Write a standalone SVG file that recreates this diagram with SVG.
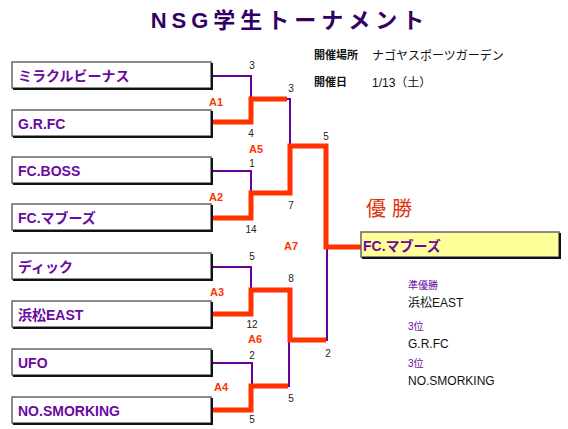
<svg xmlns="http://www.w3.org/2000/svg" width="568" height="429" viewBox="0 0 568 429">
<style>
.box{fill:#fff;stroke:#666;stroke-width:1.5}
.sh{fill:none;stroke:#111;stroke-width:2}
.tn{font-family:"Liberation Sans","Noto Sans CJK JP",sans-serif;font-size:14px;font-weight:bold;fill:#6a0aa0}
.sc{font-family:"Liberation Sans","Noto Sans CJK JP",sans-serif;font-size:10px;fill:#222;text-anchor:middle}
.mt{font-family:"Liberation Sans","Noto Sans CJK JP",sans-serif;font-size:11px;font-weight:bold;fill:#ff3300;text-anchor:middle}
.p{fill:none;stroke:#660099;stroke-width:2}
.o{fill:none;stroke:#ff3300;stroke-width:5;stroke-linejoin:miter}
.inf{font-family:"Liberation Sans","Noto Sans CJK JP",sans-serif;font-size:12px;fill:#111}
.res{font-family:"Liberation Sans","Noto Sans CJK JP",sans-serif;font-size:10px;fill:#6a0aa0}
</style>
<text x="290" y="28" text-anchor="middle" style="font-family:'Liberation Sans','Noto Sans CJK JP',sans-serif;font-size:22px;font-weight:bold;fill:#330066;letter-spacing:5px">NSG学生トーナメント</text>
<g id="info">
<text x="314" y="59" class="inf" style="font-weight:bold;font-size:11px">開催場所</text>
<text x="372" y="60" class="inf">ナゴヤスポーツガーデン</text>
<text x="314" y="86" class="inf" style="font-weight:bold;font-size:11px">開催日</text>
<text x="372" y="87" class="inf">1/13（土）</text>
</g>
<g id="connectors">
<path class="p" d="M212 76H251V99"/>
<path class="p" d="M212 171H251V193"/>
<path class="p" d="M212 267H251V290"/>
<path class="p" d="M212 363H252V386"/>
<path class="p" d="M287 99H290V146"/>
<path class="p" d="M288 386H289V340"/>
<path class="p" d="M324 340H327V247"/>
<path class="o" d="M212 122H251V99H287"/>
<path class="o" d="M212 218H251V193H290V146H326V247H362"/>
<path class="o" d="M212 314H251V290H290V340H326"/>
<path class="o" d="M212 410H251V386H288"/>
</g>
<g id="labels">
<text x="252" y="69" class="sc">3</text>
<text x="291" y="92" class="sc">3</text>
<text x="251" y="137" class="sc">4</text>
<text x="326" y="140" class="sc">5</text>
<text x="252" y="167" class="sc">1</text>
<text x="291" y="209" class="sc">7</text>
<text x="251" y="233" class="sc">14</text>
<text x="252" y="260" class="sc">5</text>
<text x="291" y="282" class="sc">8</text>
<text x="252" y="328" class="sc">12</text>
<text x="328" y="357" class="sc">2</text>
<text x="252" y="359" class="sc">2</text>
<text x="291" y="402" class="sc">5</text>
<text x="252" y="423" class="sc">5</text>
<text x="216" y="106" class="mt">A1</text>
<text x="216" y="201" class="mt">A2</text>
<text x="217" y="296" class="mt">A3</text>
<text x="221" y="391" class="mt">A4</text>
<text x="256" y="153" class="mt">A5</text>
<text x="255" y="343" class="mt">A6</text>
<text x="291" y="250" class="mt">A7</text>
</g>
<g id="t1"><rect class="box" x="12" y="62" width="199" height="26"/><path class="sh" d="M212 63V89H13"/><text x="18" y="81" class="tn">ミラクルビーナス</text></g>
<g id="t2"><rect class="box" x="12" y="110" width="199" height="26"/><path class="sh" d="M212 111V137H13"/><text x="18" y="129" class="tn">G.R.FC</text></g>
<g id="t3"><rect class="box" x="12" y="157" width="199" height="26"/><path class="sh" d="M212 158V184H13"/><text x="18" y="176" class="tn">FC.BOSS</text></g>
<g id="t4"><rect class="box" x="12" y="204" width="199" height="26"/><path class="sh" d="M212 205V231H13"/><text x="18" y="223" class="tn">FC.マブーズ</text></g>
<g id="t5"><rect class="box" x="12" y="253" width="199" height="26"/><path class="sh" d="M212 254V280H13"/><text x="18" y="272" class="tn">ディック</text></g>
<g id="t6"><rect class="box" x="12" y="301" width="199" height="26"/><path class="sh" d="M212 302V328H13"/><text x="18" y="320" class="tn">浜松EAST</text></g>
<g id="t7"><rect class="box" x="12" y="349" width="199" height="26"/><path class="sh" d="M212 350V376H13"/><text x="18" y="368" class="tn">UFO</text></g>
<g id="t8"><rect class="box" x="12" y="397" width="199" height="26"/><path class="sh" d="M212 398V424H13"/><text x="18" y="416" class="tn">NO.SMORKING</text></g>
<g id="champion">
<text x="366" y="216" style="font-family:'Noto Sans CJK JP',sans-serif;font-size:20px;fill:#dd3311;letter-spacing:6px">優勝</text>
<rect x="361" y="232" width="198" height="25" style="fill:#ffff99;stroke:#666;stroke-width:1.5"/>
<path class="sh" d="M560 233V258H362"/>
<text x="363" y="251" class="tn">FC.マブーズ</text>
</g>
<g id="results">
<text x="408" y="289" class="res">準優勝</text>
<text x="408" y="307" class="inf">浜松EAST</text>
<text x="408" y="330" class="res">3位</text>
<text x="408" y="348" class="inf">G.R.FC</text>
<text x="408" y="367" class="res">3位</text>
<text x="408" y="385" class="inf">NO.SMORKING</text>
</g>
</svg>
